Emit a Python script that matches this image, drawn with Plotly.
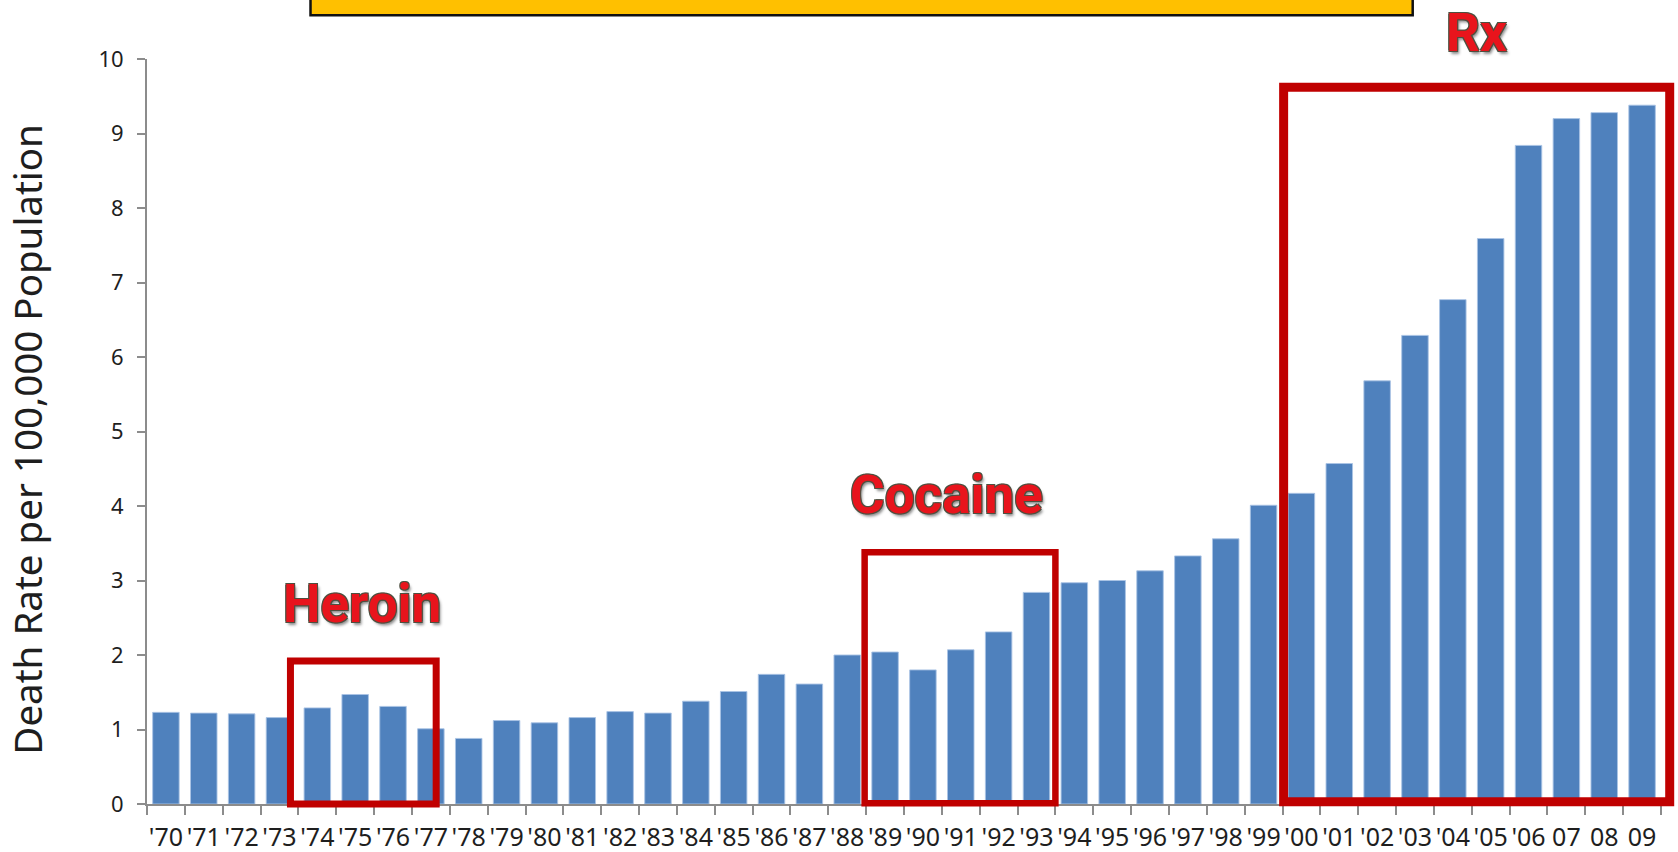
import plotly.graph_objects as go

# Drug overdose death rate per 100,000 population, 1970-2009
years = ["'70", "'71", "'72", "'73", "'74", "'75", "'76", "'77", "'78", "'79",
         "'80", "'81", "'82", "'83", "'84", "'85", "'86", "'87", "'88", "'89",
         "'90", "'91", "'92", "'93", "'94", "'95", "'96", "'97", "'98", "'99",
         "'00", "'01", "'02", "'03", "'04", "'05", "'06", "07", "08", "09"]
rates = [1.23, 1.22, 1.21, 1.16, 1.29, 1.47, 1.31, 1.01, 0.88, 1.12,
         1.09, 1.16, 1.24, 1.22, 1.38, 1.51, 1.74, 1.61, 2.00, 2.04,
         1.80, 2.07, 2.31, 2.84, 2.97, 3.00, 3.13, 3.33, 3.56, 4.01,
         4.17, 4.57, 5.68, 6.29, 6.77, 7.59, 8.84, 9.20, 9.28, 9.38]

# Highlighted eras: label, first year, last year, box top (rate units)
eras = ["Heroin", "Cocaine", "Rx"]
era_first = ["'74", "'89", "'00"]
era_last = ["'77", "'93", "09"]
era_top = [1.92, 3.38, 9.62]

W, H = 1678, 852
Y_MAX = 10
N = len(years)

BAR_BLUE = "#4F81BD"
BOX_RED = "#C00000"
AXIS_GREY = "#8C8C8C"


def xfrac(pos):
    """Category position -> fraction of the x domain (range -0.5 .. N-0.5)."""
    return (pos + 0.5) / N


def yfrac(v):
    return v / Y_MAX


fig = go.Figure()
fig.add_trace(go.Bar(
    x=years, y=rates,
    marker=dict(color=BAR_BLUE, line=dict(color="rgba(170,195,228,0.9)", width=1)),
    hoverinfo="x+y",
))

# Era boxes: padded around the bars of each era
box_pad_left = [0.71, 0.54, 0.47]
box_pad_right = [0.14, 0.50, 0.73]
box_bottom = [0.0, 0.01, 0.03]
box_width = [7, 6.5, 9]
for i in range(len(eras)):
    a = years.index(era_first[i]) - box_pad_left[i]
    b = years.index(era_last[i]) + box_pad_right[i]
    fig.add_shape(
        type="rect", xref="x domain", yref="y domain",
        x0=xfrac(a), x1=xfrac(b), y0=yfrac(box_bottom[i]), y1=yfrac(era_top[i]),
        line=dict(color=BOX_RED, width=box_width[i]), fillcolor="rgba(0,0,0,0)",
        layer="above",
    )

# Era labels
label_x = [5.19, 20.62, 34.63]
label_y = [2.68, 4.15, 10.35]
outline = "#4E5040"
label_shadow = (f"-1px -1px 0 {outline}, 1px -1px 0 {outline}, "
                f"-1px 1px 0 {outline}, 1px 1px 0 {outline}, "
                "2px 3px 3px rgba(0,0,0,0.45)")
for i in range(len(eras)):
    fig.add_annotation(
        text=eras[i], xref="x", yref="y domain",
        x=label_x[i], y=yfrac(label_y[i]),
        xanchor="center", yanchor="middle", showarrow=False,
        font=dict(family="Roboto", size=53, color="#E8141C", weight="bold",
                  shadow=label_shadow),
    )

# Y axis title
fig.add_annotation(
    text="Death Rate per 100,000 Population",
    xref="paper", yref="paper", x=-0.079, y=0.4895,
    xanchor="center", yanchor="middle", textangle=-90, showarrow=False,
    font=dict(family="Noto Sans", size=38.5, color="#1E1E1E"),
)

# Yellow banner at the top
fig.add_shape(
    type="rect", xref="paper", yref="paper",
    x0=0.108, x1=0.836, y0=1.0587, y1=1.09,
    fillcolor="#FFC000", line=dict(color="#111111", width=2.5), layer="above",
)

fig.update_layout(
    width=W, height=H,
    margin=dict(l=147, r=17, t=59, b=48),
    paper_bgcolor="white", plot_bgcolor="white",
    bargap=0.30,
    showlegend=False,
    xaxis=dict(
        type="category", range=[-0.5, N - 0.5], automargin=False,
        showline=True, linecolor=AXIS_GREY, linewidth=2,
        ticks="outside", tickson="boundaries", ticklen=9, tickcolor=AXIS_GREY, tickwidth=2,
        tickangle=0, showgrid=False, zeroline=False,
        ticklabelstandoff=10,
        tickfont=dict(family="Noto Sans", size=25, color="#1E1E1E"),
    ),
    yaxis=dict(
        range=[0, Y_MAX], tickmode="linear", tick0=0, dtick=1, automargin=False,
        showline=True, linecolor=AXIS_GREY, linewidth=2,
        ticks="outside", ticklen=8, tickcolor=AXIS_GREY, tickwidth=2,
        ticklabelstandoff=9,
        showgrid=False, zeroline=False,
        tickfont=dict(family="Noto Sans", size=22, color="#1E1E1E"),
    ),
)

fig.write_html("out.html")
